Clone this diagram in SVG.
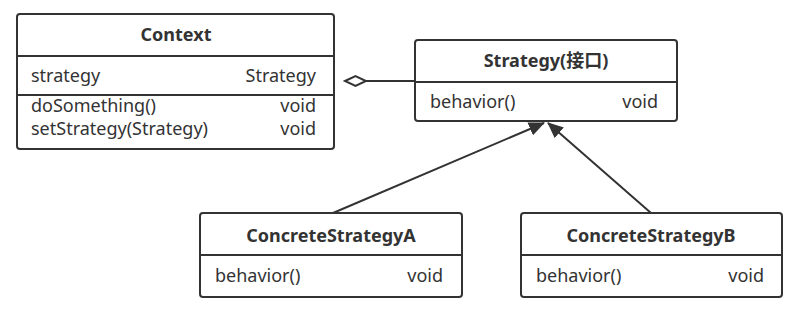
<svg xmlns="http://www.w3.org/2000/svg" width="800" height="311" viewBox="0 0 800 311">
<style>
.box{fill:#fff;stroke:#333;stroke-width:2}
.div{stroke:#333;stroke-width:2}
text{font-family:"Noto Sans","Noto Sans CJK SC",sans-serif;font-size:18px;fill:#333}
.t{font-weight:bold;text-anchor:middle}
.r{text-anchor:end}
.edge{stroke:#333;stroke-width:2;fill:none}
.dia{fill:#fff;stroke:#333;stroke-width:2}
</style>
<defs>
<marker id="tri" markerWidth="16" markerHeight="14" refX="15" refY="7" orient="auto" markerUnits="userSpaceOnUse">
<path d="M0,0 L16,7 L0,14 Z" fill="#333"/>
</marker>
</defs>
<g id="edges">
<line class="edge" x1="416" y1="81" x2="366" y2="81"/>
<path class="dia" d="M345,81 L355.5,76 L366,81 L355.5,86 Z"/>
<line class="edge" x1="333" y1="213" x2="544" y2="123" marker-end="url(#tri)"/>
<line class="edge" x1="651" y1="213" x2="548" y2="123" marker-end="url(#tri)"/>
</g>
<g id="context">
<rect class="box" x="17" y="14" width="317" height="135" rx="3"/>
<line class="div" x1="17" y1="56" x2="334" y2="56"/>
<line class="div" x1="17" y1="95" x2="334" y2="95"/>
<text class="t" x="176" y="41">Context</text>
<text x="31" y="82">strategy</text>
<text class="r" x="316" y="82">Strategy</text>
<text x="31" y="112">doSomething()</text>
<text class="r" x="316" y="112">void</text>
<text x="31" y="135">setStrategy(Strategy)</text>
<text class="r" x="316" y="135">void</text>
</g>
<g id="strategy">
<rect class="box" x="415" y="40" width="262" height="81" rx="3"/>
<line class="div" x1="415" y1="82" x2="677" y2="82"/>
<text class="t" x="546" y="67">Strategy(接口)</text>
<text x="430" y="108">behavior()</text>
<text class="r" x="658" y="108">void</text>
</g>
<g id="concreteA">
<rect class="box" x="200" y="213" width="262" height="84" rx="3"/>
<line class="div" x1="200" y1="255" x2="462" y2="255"/>
<text class="t" x="331" y="242">ConcreteStrategyA</text>
<text x="215" y="282">behavior()</text>
<text class="r" x="443" y="282">void</text>
</g>
<g id="concreteB">
<rect class="box" x="521" y="213" width="261" height="84" rx="3"/>
<line class="div" x1="521" y1="255" x2="782" y2="255"/>
<text class="t" x="651" y="242">ConcreteStrategyB</text>
<text x="536" y="282">behavior()</text>
<text class="r" x="764" y="282">void</text>
</g>
</svg>
